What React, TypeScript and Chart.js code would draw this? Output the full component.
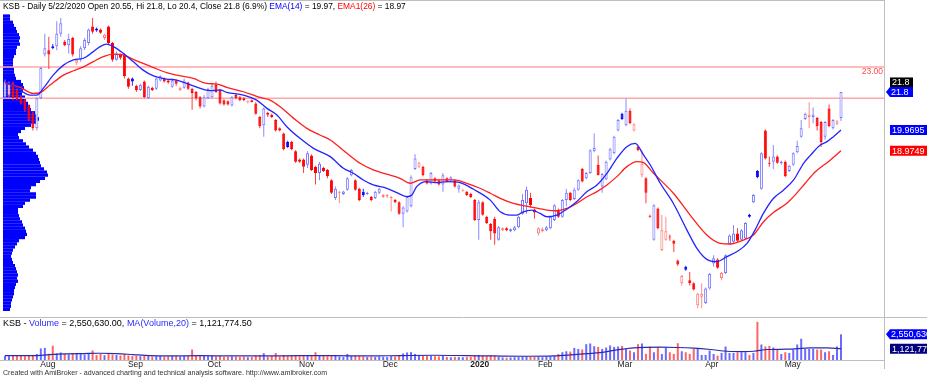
import React, { useEffect, useRef } from "react";
import { Chart, registerables } from "chart.js";

Chart.register(...registerables);

const FONT = '"Liberation Sans", Arial, sans-serif';

// ---- Daily bars (KSB, 19 Jul 2019 .. 22 May 2020) ----
const opens = [
  21.55, 21.65, 22.25, 21.9, 21.55, 21.4, 21.15, 20.75, 20.05, 21.5,
  23.6, 23.8, 24.0, 24.0, 24.6, 24.2, 24.05, 24.4, 23.2, 23.35,
  23.9, 24.15, 24.95, 24.85, 24.8, 24.4, 24.95, 24.15, 23.35, 23.6,
  23.6, 22.45, 22.45, 22.1, 21.9, 22.3, 21.5, 22.0, 21.95, 22.35,
  22.45, 22.35, 22.05, 22.35, 21.9, 22.0, 22.25, 21.95, 21.8, 21.55,
  21.1, 21.5, 21.55, 22.15, 21.9, 21.4, 21.35, 21.15, 21.65, 21.55,
  21.5, 21.3, 21.4, 21.25, 20.6, 20.2, 20.8, 20.7, 20.45, 20.05,
  19.8, 19.4, 19.4, 18.95, 18.55, 18.55, 18.3, 18.75, 18.2, 17.9,
  18.15, 18.05, 17.55, 16.7, 16.95, 16.9, 17.1, 17.8, 17.55, 17.15,
  17.0, 16.9, 16.75, 16.7, 16.95, 16.75, 16.78, 16.7, 16.6, 16.5,
  15.95, 16.05, 16.3, 18.1, 18.2, 18.2, 17.55, 17.4, 17.65, 17.55,
  17.35, 17.65, 17.55, 17.55, 17.15, 17.05, 17.0, 16.9, 16.6, 15.65,
  16.5, 15.8, 15.45, 15.7, 14.7, 15.15, 15.25, 15.1, 15.15, 15.3,
  15.95, 16.45, 16.7, 16.15, 15.0, 15.1, 15.15, 15.25, 15.65, 16.1,
  15.8, 16.6, 16.95, 16.65, 17.1, 18.1, 17.65, 17.9, 18.95, 18.3,
  17.25, 17.6, 18.55, 18.85, 19.95, 20.75, 20.2, 20.9, 19.95, 19.15,
  17.8, 17.65, 15.85, 14.7, 16.2, 14.2, 14.7, 14.85, 14.65, 13.7,
  12.6, 13.4, 12.75, 12.6, 11.55, 11.95, 11.65, 12.35, 13.55, 13.75,
  12.85, 13.1, 14.5, 14.6, 15.0, 14.7, 14.75, 15.9, 16.5, 18.0,
  17.15, 19.95, 18.4, 18.45, 18.7, 18.37, 18.45, 18.0, 18.3, 18.9,
  19.65, 20.5, 20.6, 20.6, 20.55, 20.35, 19.65, 21.0, 20.05, 20.25,
  20.55,
];
const highs = [
  22.4, 22.3, 22.3, 21.95, 21.6, 21.45, 21.2, 20.85, 21.55, 23.0,
  24.6, 24.45, 24.1, 25.2, 25.35, 24.3, 24.6, 24.45, 23.4, 24.0,
  24.4, 24.85, 25.35, 24.9, 24.85, 24.6, 25.0, 24.2, 23.75, 23.65,
  23.65, 22.5, 22.5, 22.15, 22.2, 22.35, 22.1, 22.05, 22.5, 22.6,
  22.5, 22.4, 22.45, 22.4, 22.05, 22.45, 22.3, 22.0, 21.85, 21.6,
  21.65, 22.0, 22.2, 22.3, 21.95, 21.45, 21.4, 21.6, 21.7, 21.6,
  21.55, 21.4, 21.45, 21.3, 20.65, 21.05, 20.85, 20.75, 20.5, 20.1,
  19.85, 19.45, 19.45, 19.0, 18.6, 18.6, 18.95, 18.8, 18.25, 18.45,
  18.2, 18.1, 17.6, 17.25, 17.05, 17.05, 17.7, 18.1, 17.6, 17.2,
  17.15, 17.0, 16.8, 17.05, 17.2, 16.9, 16.9, 16.8, 16.65, 16.55,
  16.3, 16.8, 17.8, 18.8, 18.45, 18.25, 17.6, 17.95, 17.7, 17.6,
  17.9, 17.7, 17.75, 17.6, 17.35, 17.15, 17.05, 16.95, 16.65, 16.6,
  16.55, 15.85, 15.5, 15.8, 15.35, 15.3, 15.3, 15.25, 15.35, 15.85,
  16.9, 17.25, 16.95, 16.2, 15.3, 15.3, 15.35, 15.85, 16.4, 16.2,
  16.65, 17.15, 17.0, 17.2, 17.6, 18.15, 17.95, 19.05, 19.8, 18.75,
  17.9, 18.5, 19.1, 19.7, 20.5, 20.8, 21.5, 21.0, 20.3, 19.2,
  19.0, 17.7, 15.9, 16.4, 16.25, 15.9, 15.8, 14.95, 14.7, 13.75,
  13.0, 13.45, 13.15, 12.65, 12.15, 12.6, 12.4, 13.1, 13.95, 13.8,
  13.15, 14.0, 14.95, 15.4, 15.25, 15.2, 15.55, 15.95, 16.9, 18.05,
  18.9, 20.0, 18.7, 19.25, 18.75, 18.5, 18.5, 18.3, 18.9, 19.45,
  20.45, 20.8, 21.3, 21.05, 20.6, 20.4, 20.4, 21.2, 20.5, 20.45,
  21.8,
];
const lows = [
  21.45, 21.55, 21.4, 21.4, 21.2, 20.85, 20.4, 19.95, 19.95, 21.45,
  23.5, 22.9, 23.85, 23.8, 24.45, 24.0, 23.65, 23.5, 23.1, 23.25,
  23.8, 24.05, 24.6, 24.7, 24.6, 24.3, 24.05, 23.25, 23.3, 23.35,
  22.45, 21.95, 22.1, 21.8, 21.85, 21.5, 21.45, 21.85, 21.9, 22.3,
  22.25, 22.2, 22.0, 22.1, 21.85, 21.95, 21.9, 20.95, 21.4, 21.0,
  21.05, 21.45, 21.5, 21.75, 21.2, 21.15, 21.15, 21.1, 21.45, 21.35,
  21.35, 21.25, 21.3, 20.7, 20.05, 19.65, 20.6, 20.55, 19.9, 19.9,
  19.0, 19.1, 19.0, 18.4, 18.4, 17.9, 18.15, 18.0, 17.35, 17.55,
  17.95, 17.65, 16.9, 16.6, 16.45, 16.85, 17.05, 17.75, 17.05, 16.55,
  16.75, 16.85, 16.55, 16.65, 16.9, 16.7, 16.7, 16.05, 16.45, 15.9,
  15.3, 16.0, 16.25, 18.05, 18.15, 17.75, 17.35, 17.35, 17.45, 17.3,
  17.0, 17.45, 17.5, 17.2, 16.95, 17.0, 16.8, 16.7, 15.6, 14.7,
  15.85, 15.45, 14.7, 14.45, 14.65, 15.1, 15.1, 15.05, 15.1, 15.25,
  15.9, 15.95, 16.25, 15.7, 14.9, 15.05, 15.1, 15.2, 15.6, 15.75,
  15.75, 16.3, 16.55, 16.6, 17.05, 17.45, 17.6, 17.85, 18.9, 17.8,
  16.95, 17.55, 18.5, 18.8, 19.9, 20.45, 20.15, 20.25, 19.9, 18.95,
  17.7, 16.45, 15.75, 14.65, 15.2, 14.15, 14.65, 14.65, 14.1, 13.45,
  12.5, 13.2, 12.5, 12.25, 11.4, 11.4, 11.6, 12.3, 13.4, 13.3,
  12.75, 13.05, 14.45, 14.5, 14.6, 14.65, 14.7, 15.75, 16.45, 17.65,
  17.1, 18.55, 18.2, 18.1, 18.35, 18.3, 17.7, 17.95, 18.25, 18.85,
  19.6, 20.45, 20.05, 20.3, 19.95, 19.15, 19.5, 20.1, 20.0, 20.2,
  20.4,
];
const closes = [
  22.3, 22.2, 21.5, 21.45, 21.25, 20.95, 20.45, 20.05, 21.5, 22.95,
  23.9, 23.6, 23.9, 24.6, 25.1, 24.05, 24.35, 23.6, 23.35, 23.9,
  24.3, 24.8, 24.7, 24.75, 24.65, 24.55, 24.15, 23.35, 23.65, 23.45,
  22.55, 22.05, 22.3, 21.9, 22.15, 21.55, 22.05, 21.9, 22.45, 22.55,
  22.3, 22.25, 22.35, 22.2, 22.0, 22.35, 21.95, 21.75, 21.5, 21.1,
  21.55, 21.95, 22.1, 21.8, 21.25, 21.2, 21.2, 21.55, 21.5, 21.4,
  21.4, 21.35, 21.3, 20.75, 20.15, 21.0, 20.7, 20.6, 19.95, 19.95,
  19.05, 19.15, 19.05, 18.45, 18.45, 18.2, 18.85, 18.05, 17.9, 18.35,
  18.0, 17.75, 16.95, 17.15, 16.98, 17.02, 17.65, 18.05, 17.1, 16.6,
  16.85, 16.95, 16.6, 17.0, 17.15, 16.85, 16.85, 16.75, 16.5, 15.95,
  16.25, 16.75, 17.7, 18.6, 18.4, 17.8, 17.4, 17.9, 17.5, 17.35,
  17.8, 17.5, 17.7, 17.25, 17.3, 17.1, 16.85, 16.75, 15.65, 16.5,
  15.9, 15.5, 15.1, 15.0, 15.3, 15.25, 15.15, 15.2, 15.3, 15.8,
  16.6, 17.1, 16.35, 16.0, 15.25, 15.2, 15.3, 15.8, 16.35, 15.8,
  16.6, 16.95, 16.6, 17.1, 17.55, 17.5, 17.9, 19.0, 19.1, 17.8,
  17.85, 18.45, 19.05, 19.65, 20.45, 20.5, 20.9, 20.3, 20.25, 19.0,
  18.35, 16.95, 15.8, 16.35, 15.25, 15.15, 15.1, 14.8, 14.5, 13.5,
  12.95, 13.25, 12.6, 12.3, 12.1, 12.1, 12.35, 13.05, 13.8, 13.35,
  13.1, 13.95, 14.9, 15.0, 14.65, 15.15, 15.5, 15.8, 16.85, 17.7,
  18.85, 18.6, 18.35, 18.7, 18.4, 18.45, 17.75, 18.25, 18.85, 19.2,
  20.05, 20.75, 20.7, 20.72, 20.15, 19.4, 20.35, 20.15, 20.45, 20.39,
  21.8,
];
// volume in thousands of shares
const volumeK = [
  420, 380, 450, 400, 430, 380, 420, 460, 600, 1150,
  1200, 620, 1420, 650, 750, 600, 550, 650, 700, 600,
  550, 650, 950, 500, 600, 480, 700, 550, 500, 450,
  600, 450, 400, 420, 380, 450, 420, 350, 380, 400,
  350, 380, 420, 400, 350, 380, 400, 1040, 450, 420,
  400, 380, 420, 350, 380, 300, 320, 350, 330, 300,
  320, 280, 300, 400, 500, 670, 350, 400, 700, 350,
  500, 400, 450, 500, 380, 450, 500, 420, 770, 450,
  400, 380, 450, 400, 350, 300, 600, 400, 420, 380,
  350, 300, 330, 300, 350, 320, 300, 380, 350, 450,
  650, 750, 780, 600, 500, 450, 400, 420, 380, 350,
  400, 300, 280, 320, 300, 280, 300, 320, 450, 500,
  420, 380, 450, 400, 300, 250, 230, 250, 280, 300,
  350, 380, 320, 300, 300, 280, 320, 350, 400, 600,
  770, 870, 840, 1200, 1100, 1040, 1570, 1640, 1370, 1300,
  1100, 1240, 1440, 1300, 1340, 1400, 1100, 940, 770, 1570,
  1640, 600, 1340, 770, 1270, 600, 1240, 770, 600, 1670,
  870, 770, 600, 1100, 1100, 500, 500, 940, 600, 435,
  700, 1340, 700, 700, 770, 770, 770, 500, 700, 3780,
  1540, 1340, 1400, 1240, 1100, 600, 770, 700, 1040, 1540,
  2110, 1100, 1100, 1100, 1040, 1040, 770, 870, 500, 1340,
  2550.63,
];
// indicator lines: [bar index, value]
const ema14Points = [
  [0, 22.29], [2.1, 22.09], [3.8, 21.89], [6.3, 21.65], [8, 21.65], [9.6, 21.97], [12.1, 22.61],
  [14.7, 23.09], [17.2, 23.34], [19.7, 23.42], [22.2, 23.74], [23.9, 23.98], [25.5, 24.1],
  [27.2, 23.98], [29.7, 23.66], [32.2, 23.26], [34.7, 22.85], [37.3, 22.57], [40.6, 22.42],
  [43.1, 22.37], [47.3, 22.09], [51.5, 21.86], [54, 21.9], [55.7, 21.78], [59.9, 21.65],
  [63.2, 21.41], [65.8, 21.01], [68.3, 20.69], [70.8, 20.13], [74.1, 19.57], [77.5, 19.09],
  [81.7, 18.69], [85, 18.13], [87.5, 17.89], [90, 17.57], [92.5, 17.33], [95.9, 17.17],
  [98.4, 16.96], [100.9, 16.77], [102.2, 16.85], [103.4, 17.25], [105.9, 17.49], [108.5, 17.44],
  [111, 17.49], [114.3, 17.44], [117.7, 17.12], [121.9, 16.6], [124.4, 16.04], [126.9, 15.88],
  [128.6, 15.88], [130.2, 16.04], [132.3, 16.12], [134.4, 15.96], [136.1, 15.8], [138.6, 15.88],
  [141.1, 16.16], [143.6, 16.52], [146.2, 17.01], [148.7, 17.33], [151.2, 17.89], [153.7, 18.61],
  [156.2, 19.17], [158.3, 19.33], [160.4, 18.77], [162.1, 18.29], [164.6, 17.41], [167.9, 16.44],
  [171.3, 15.16], [173.8, 14.28], [176.3, 13.75], [178.8, 13.64], [181.3, 13.88], [183.8, 14.12],
  [186.4, 14.52], [188.4, 15.16], [190.5, 15.96], [193, 16.68], [195.6, 17.09], [198.1, 17.57],
  [200.6, 18.37], [202.3, 18.75], [204.8, 19.25], [206.5, 19.41], [208.1, 19.65], [210, 19.9695],
];
const ema26Points = [
  [0, 22.21], [3.8, 22.02], [7.1, 21.73], [8.8, 21.77], [11.3, 22.13], [14.7, 22.61], [17.2, 22.82],
  [19.7, 23.01], [22.2, 23.26], [24.7, 23.5], [27.2, 23.62], [29.7, 23.58], [32.2, 23.37],
  [34.7, 23.17], [37.3, 22.97], [40.6, 22.73], [43.1, 22.61], [47.3, 22.45], [50.6, 22.21],
  [53.2, 22.18], [55.7, 22.02], [59.9, 21.81], [64.1, 21.54], [66.6, 21.41], [69.1, 21.09],
  [72.5, 20.53], [75.8, 20.05], [79.1, 19.73], [81.7, 19.49], [85.9, 18.85], [89.2, 18.37],
  [92.5, 18.05], [95.9, 17.85], [99.2, 17.65], [101.8, 17.41], [104.3, 17.57], [106.8, 17.57],
  [109.3, 17.57], [112.6, 17.57], [116, 17.41], [119.3, 17.17], [121.9, 16.93], [124.4, 16.68],
  [127.7, 16.44], [131.9, 16.28], [136.1, 16.12], [138.6, 16.09], [141.1, 16.2], [143.6, 16.44],
  [146.2, 16.76], [148.7, 17.01], [151.2, 17.33], [153.7, 17.73], [156.2, 18.21], [158.7, 18.45],
  [160.4, 18.4], [162.9, 17.89], [167.9, 16.93], [172.1, 15.88], [176.3, 14.92], [179.6, 14.52],
  [182.2, 14.49], [185.5, 14.68], [188, 14.92], [190.5, 15.55], [193, 16.0], [196.4, 16.45],
  [198.5, 16.85], [201, 17.41], [203.5, 17.95], [206.8, 18.45], [210, 18.9749],
];
const volMaPointsK = [
  [0, 435], [7.1, 435], [11.3, 535], [15.5, 600], [19.7, 636], [23.9, 670], [28.1, 636],
  [32.2, 535], [36.4, 435], [40.6, 400], [49, 435], [57.4, 400], [65.7, 400], [74.1, 435],
  [82.5, 435], [90.9, 400], [99.2, 435], [107.6, 470], [116, 435], [122.7, 400], [131.1, 370],
  [137.8, 400], [142, 500], [146.2, 636], [149.5, 736], [153.7, 1000], [157.9, 1200],
  [164.6, 1270], [168.8, 1240], [173, 1170], [177.2, 1040], [181.4, 870], [185.6, 840],
  [188.1, 870], [191.5, 1040], [196.5, 1070], [202.3, 1200], [206.5, 1200], [210, 1121.7745],
];
// volume-at-price profile (relative), bins of 0.15 from 25.45 downwards
const profileTop = 25.45;
const profileStep = 0.15;
const profileVolume = [
  7, 7, 10, 11, 13, 14, 16, 17, 16, 17,
  14, 13, 13, 11, 10, 10, 10, 11, 11, 12,
  13, 18, 20, 21, 20, 19, 22, 23, 25, 27,
  28, 32, 34, 36, 33, 28, 22, 18, 15, 16,
  20, 23, 26, 30, 33, 35, 36, 37, 38, 41,
  44, 45, 42, 37, 33, 28, 27, 33, 33, 27,
  22, 20, 15, 15, 16, 17, 19, 20, 22, 23,
  24, 22, 16, 14, 12, 10, 9, 8, 9, 10,
  12, 13, 14, 15, 14, 15, 13, 12, 11, 11,
  10, 9, 8, 8, 7,
];
const monthTicks = [
  { index: 9, label: "Aug" }, { index: 31, label: "Sep" }, { index: 51, label: "Oct" },
  { index: 74, label: "Nov" }, { index: 95, label: "Dec" }, { index: 117, label: "2020", bold: true },
  { index: 134, label: "Feb" }, { index: 154, label: "Mar" }, { index: 176, label: "Apr" },
  { index: 196, label: "May" },
];
const levelLines = [23, 21.5];
const levelLabel = "23.00";
const lastEma14 = 19.9695;
const lastEma26 = 18.9749;
const lastVolume = 2550630;
const lastVolMa = 1121775;

const X_MIN = -1.256;
const X_MAX = 220.8;
const Y_MIN = 10.981;
const Y_MAX = 26.221;
const V_MAX = 4170000;

function fmt(n: number) {
  return n.toLocaleString("en-US");
}

function drawTag(ctx: CanvasRenderingContext2D, text: string, yc: number, fill: string, x0: number, x1: number, arrow: boolean) {
  const h = 10;
  ctx.beginPath();
  if (arrow) {
    ctx.moveTo(x0, yc);
    ctx.lineTo(x0 + 4, yc - h / 2);
    ctx.lineTo(x1, yc - h / 2);
    ctx.lineTo(x1, yc + h / 2);
    ctx.lineTo(x0 + 4, yc + h / 2);
  } else {
    ctx.rect(x0, yc - h / 2, x1 - x0, h);
  }
  ctx.closePath();
  ctx.fillStyle = fill;
  ctx.fill();
  ctx.fillStyle = "#ffffff";
  ctx.textAlign = "left";
  ctx.textBaseline = "middle";
  ctx.font = "9px " + FONT;
  ctx.fillText(text, arrow ? x0 + 5 : x0 + 2, yc + 0.5);
}

const hiddenLinear = (min: number, max: number, axis?: string) => ({
  type: "linear", axis, min, max, display: false, offset: false, grace: 0,
});

export default function App() {
  const refA = useRef<HTMLCanvasElement>(null);
  const refB = useRef<HTMLCanvasElement>(null);

  useEffect(() => {
    const n = closes.length;
    const bodyFill: string[] = [];
    const bodyBorder: string[] = [];
    const wickColor: string[] = [];
    const volColor: string[] = [];
    for (let i = 0; i < n; i++) {
      const up = i === 0 ? true : closes[i] > closes[i - 1];
      const hollow = closes[i] >= opens[i];
      if (up) {
        bodyFill.push(hollow ? "#ffffff" : "#0000ff");
        bodyBorder.push(hollow ? "#7272ff" : "#0000ff");
        wickColor.push(hollow ? "#8a8aff" : "#3030ff");
      } else {
        bodyFill.push(hollow ? "#ffffff" : "#ff0000");
        bodyBorder.push(hollow ? "#ff7a7a" : "#ff0000");
        wickColor.push(hollow ? "#ff8c8c" : "#ff3a3a");
      }
      volColor.push(hollow ? "#6a6aff" : "#ff6464");
    }

    const pricePlugin = {
      id: "priceDecor",
      afterDraw(chart: any) {
        const ctx: CanvasRenderingContext2D = chart.ctx;
        const ca = chart.chartArea;
        const y = chart.scales.y;
        ctx.save();
        ctx.strokeStyle = "#bdbdbd";
        ctx.lineWidth = 1;
        ctx.beginPath();
        ctx.moveTo(0, 0.5); ctx.lineTo(ca.right, 0.5);
        ctx.moveTo(ca.right + 0.5, 0); ctx.lineTo(ca.right + 0.5, chart.height);
        ctx.moveTo(0, ca.bottom + 0.5); ctx.lineTo(chart.width, ca.bottom + 0.5);
        ctx.stroke();
        ctx.font = "8.5px " + FONT;
        ctx.fillStyle = "#ff4a4a";
        ctx.textAlign = "right";
        ctx.textBaseline = "middle";
        ctx.fillText(levelLabel, ca.right - 1, y.getPixelForValue(levelLines[0]) + 5);
        const lc = closes[closes.length - 1];
        const yc = y.getPixelForValue(lc);
        drawTag(ctx, String(lc), yc - 9.5, "#000000", ca.right + 6, ca.right + 29, false);
        drawTag(ctx, String(lc), yc, "#0000ff", ca.right + 2, ca.right + 29, true);
        drawTag(ctx, String(lastEma14), y.getPixelForValue(lastEma14), "#0000ff", ca.right + 6, chart.width, false);
        drawTag(ctx, String(lastEma26), y.getPixelForValue(lastEma26), "#ff0000", ca.right + 6, chart.width, false);
        ctx.restore();
      },
    };

    const volPlugin = {
      id: "volDecor",
      afterDraw(chart: any) {
        const ctx: CanvasRenderingContext2D = chart.ctx;
        const ca = chart.chartArea;
        const y = chart.scales.y;
        const x = chart.scales.x;
        ctx.save();
        ctx.strokeStyle = "#bdbdbd";
        ctx.lineWidth = 1;
        ctx.beginPath();
        ctx.moveTo(0, ca.bottom + 0.5); ctx.lineTo(ca.right, ca.bottom + 0.5);
        ctx.moveTo(ca.right + 0.5, 0); ctx.lineTo(ca.right + 0.5, ca.bottom + 9);
        ctx.stroke();
        drawTag(ctx, fmt(lastVolume), y.getPixelForValue(lastVolume), "#0000ff", ca.right + 2, chart.width, true);
        drawTag(ctx, fmt(lastVolMa), y.getPixelForValue(lastVolMa), "#000080", ca.right + 6, chart.width, false);
        ctx.textAlign = "left";
        ctx.textBaseline = "middle";
        ctx.fillStyle = "#1a1a1a";
        for (const t of monthTicks) {
          ctx.font = (t.bold ? "bold " : "") + "8.5px " + FONT;
          ctx.fillText(t.label, x.getPixelForValue(t.index) - 0.5, ca.bottom + 5);
        }
        ctx.restore();
      },
    };

    const chartA = new Chart(refA.current as HTMLCanvasElement, {
      type: "bar",
      data: {
        datasets: [
          {
            type: "line", label: "EMA(14)",
            data: ema14Points.map(([px, py]) => ({ x: px, y: py })),
            borderColor: "#2424ff", borderWidth: 1.3, pointRadius: 0, cubicInterpolationMode: "monotone", order: 1,
          },
          {
            type: "line", label: "EMA1(26)",
            data: ema26Points.map(([px, py]) => ({ x: px, y: py })),
            borderColor: "#ff1e1e", borderWidth: 1.3, pointRadius: 0, cubicInterpolationMode: "monotone", order: 2,
          },
          {
            type: "bar", label: "body",
            data: opens.map((o, i) => ({ x: i, y: [o, closes[i]] })),
            backgroundColor: bodyFill, borderColor: bodyBorder, borderWidth: 1, borderSkipped: false,
            barThickness: 3, maxBarThickness: 3, grouped: false, minBarLength: 1, inflateAmount: 0, order: 3,
          },
          {
            type: "bar", label: "wick",
            data: lows.map((l, i) => ({ x: i, y: [l, highs[i]] })),
            backgroundColor: wickColor, borderWidth: 0,
            barThickness: 1, maxBarThickness: 1, grouped: false, inflateAmount: 0, order: 4,
          },
          ...levelLines.map((lv) => ({
            type: "line", label: "level " + lv,
            data: [{ x: X_MIN, y: lv }, { x: X_MAX, y: lv }],
            borderColor: "#ffa6a6", borderWidth: 1.6, pointRadius: 0, order: 5,
          })),
          {
            type: "bar", label: "profile", indexAxis: "y", xAxisID: "xp", yAxisID: "yp",
            data: profileVolume.map((v, k) => ({ x: v, y: profileTop - k * profileStep })),
            backgroundColor: "#0000ff", borderWidth: 0,
            barThickness: 3.3, maxBarThickness: 3.3, grouped: false, inflateAmount: 0, order: 6,
          },
        ] as any,
      },
      options: {
        responsive: false, animation: false, devicePixelRatio: 1, events: [],
        layout: { padding: { left: 0, right: 43, top: 0, bottom: 1 } },
        plugins: { legend: { display: false }, tooltip: { enabled: false } },
        scales: {
          x: hiddenLinear(X_MIN, X_MAX, "x"),
          y: hiddenLinear(Y_MIN, Y_MAX, "y"),
          xp: hiddenLinear(-3, 881, "x"),
          yp: hiddenLinear(Y_MIN, Y_MAX, "y"),
        } as any,
      },
      plugins: [pricePlugin],
    } as any);

    const chartB = new Chart(refB.current as HTMLCanvasElement, {
      type: "bar",
      data: {
        datasets: [
          {
            type: "line", label: "MA(Volume,20)",
            data: volMaPointsK.map(([px, py]) => ({ x: px, y: py * 1000 })),
            borderColor: "#2c2ca8", borderWidth: 1.2, pointRadius: 0, cubicInterpolationMode: "monotone", order: 1,
          },
          {
            type: "bar", label: "Volume",
            data: volumeK.map((v, i) => ({ x: i, y: v * 1000 })),
            backgroundColor: volColor, borderWidth: 0,
            barThickness: 2, maxBarThickness: 2, grouped: false, inflateAmount: 0, order: 2,
          },
        ] as any,
      },
      options: {
        responsive: false, animation: false, devicePixelRatio: 1, events: [],
        layout: { padding: { left: 0, right: 43, top: 0, bottom: 17 } },
        plugins: { legend: { display: false }, tooltip: { enabled: false } },
        scales: {
          x: hiddenLinear(X_MIN, X_MAX, "x"),
          y: hiddenLinear(0, V_MAX, "y"),
        } as any,
      },
      plugins: [volPlugin],
    } as any);

    return () => {
      chartA.destroy();
      chartB.destroy();
    };
  }, []);

  const textBase: React.CSSProperties = {
    position: "absolute", left: 3, whiteSpace: "nowrap", fontFamily: FONT, color: "#000",
  };

  return (
    <div style={{ position: "fixed", left: 0, top: 0, width: 927, height: 377, background: "#fff", overflow: "hidden" }}>
      <canvas ref={refA} width={927} height={318} style={{ position: "absolute", left: 0, top: 0 }} />
      <canvas ref={refB} width={927} height={59} style={{ position: "absolute", left: 0, top: 318 }} />
      <div style={{ ...textBase, top: 0, fontSize: 8.4, lineHeight: "12px" }}>
        KSB - Daily 5/22/2020 Open 20.55, Hi 21.8, Lo 20.4, Close 21.8 (6.9%){" "}
        <span style={{ color: "#0000ff" }}>EMA(14)</span> = 19.97,{" "}
        <span style={{ color: "#ff0000" }}>EMA1(26)</span> = 18.97
      </div>
      <div style={{ ...textBase, top: 317, fontSize: 9, lineHeight: "12px" }}>
        KSB - <span style={{ color: "#2a2aff" }}>Volume</span> = 2,550,630.00,{" "}
        <span style={{ color: "#2a2aff" }}>MA(Volume,20)</span> = 1,121,774.50
      </div>
      <div style={{ ...textBase, top: 368, fontSize: 7.1, lineHeight: "11px", color: "#333" }}>
        Created with AmiBroker - advanced charting and technical analysis software. http://www.amibroker.com
      </div>
    </div>
  );
}
